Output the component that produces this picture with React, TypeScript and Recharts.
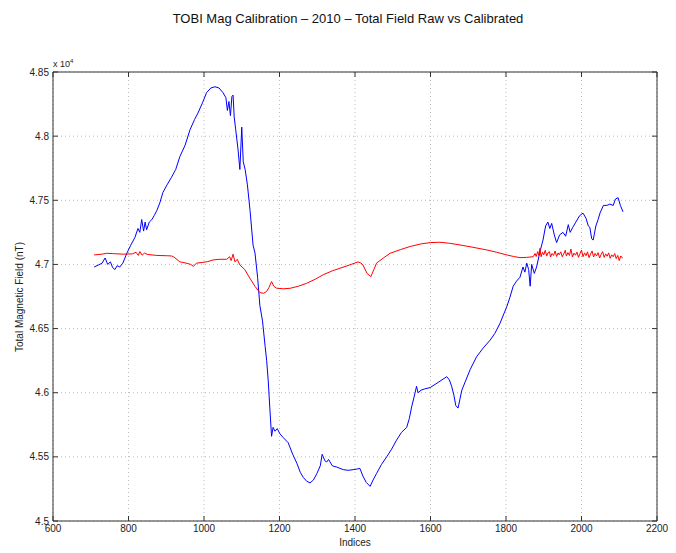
import React from 'react';
import { LineChart, Line, XAxis, YAxis, CartesianGrid } from 'recharts';

// raw total field (blue)
const rawIndices = [
  709, 720, 730, 738, 745, 752, 758, 764, 770, 777, 785, 796, 806, 817, 825, 830, 835, 840, 844, 848,
  855, 862, 868, 875, 883, 891, 902, 914, 925, 936, 950, 963, 975, 984, 996, 1007, 1018, 1029, 1040, 1050,
  1058, 1062, 1066, 1070, 1074, 1077, 1080, 1084, 1090, 1095, 1100, 1104, 1109, 1115, 1122, 1130, 1135, 1142, 1148, 1155,
  1162, 1166, 1170, 1175, 1179, 1183, 1188, 1194, 1201, 1210, 1223, 1235, 1246, 1255, 1263, 1272, 1281, 1290, 1299, 1308,
  1313, 1316, 1320, 1325, 1330, 1334, 1340, 1352, 1369, 1382, 1395, 1405, 1413, 1421, 1430, 1440, 1448, 1457, 1470, 1484,
  1497, 1510, 1523, 1537, 1544, 1550, 1556, 1563, 1567, 1575, 1585, 1599, 1620, 1643, 1650, 1656, 1662, 1667, 1673, 1678,
  1683, 1694, 1705, 1722, 1740, 1758, 1770, 1784, 1795, 1802, 1810, 1819, 1828, 1837, 1845, 1850, 1855, 1860, 1864, 1868,
  1875, 1881, 1890, 1898, 1905, 1911, 1916, 1921, 1928, 1934, 1942, 1951, 1958, 1965, 1970, 1977, 1985, 1995, 2004, 2012,
  2018, 2022, 2027, 2031, 2038, 2044, 2049, 2058, 2067, 2075, 2084, 2090, 2097, 2103, 2110
];
const rawField = [
  46980, 46995, 47010, 47050, 47000, 47020, 46975, 46960, 46990, 46980, 47010, 47090, 47150, 47210, 47280, 47250, 47350, 47260, 47330, 47270,
  47330, 47350, 47380, 47420, 47480, 47560, 47620, 47680, 47740, 47840, 47930, 48050, 48130, 48180, 48260, 48340, 48375, 48385, 48375, 48340,
  48300, 48200, 48270, 48160, 48310, 48320, 48150, 48050, 47900, 47740, 48070, 47800, 47740, 47620, 47420, 47150, 47090, 46900, 46680, 46560,
  46360, 46250, 46100, 45850, 45660, 45730, 45700, 45720, 45680, 45650, 45610, 45520, 45450, 45380, 45340, 45310, 45297, 45320, 45370, 45430,
  45520, 45500, 45470, 45460, 45480, 45460, 45430, 45420, 45400, 45395, 45400, 45405, 45410, 45350, 45300, 45270, 45320, 45370, 45440, 45500,
  45560, 45630, 45690, 45730, 45800, 45890, 45960, 46050, 46000, 46020, 46030, 46040, 46080, 46125, 46100, 46050, 45980, 45900, 45880, 45950,
  46020, 46100, 46180, 46280, 46350, 46410, 46460, 46540, 46620, 46670, 46740, 46830, 46870, 46900, 46980, 46940, 47010, 46960, 46830, 47000,
  46930, 46980, 47100, 47190, 47300, 47330, 47280, 47320, 47230, 47170, 47230, 47250, 47220, 47310, 47250, 47290, 47330, 47380, 47400, 47360,
  47300, 47290, 47200, 47190, 47300, 47350, 47400, 47460, 47460, 47470, 47460, 47510, 47520, 47460, 47410
];

// calibrated total field (red)
const calIndices = [
  709, 730, 742, 760, 786, 810, 820, 826, 830, 836, 842, 850, 875, 900, 914, 920, 936, 950, 965, 972,
  980, 995, 1010, 1024, 1040, 1060, 1068, 1072, 1077, 1082, 1088, 1095, 1108, 1122, 1135, 1148, 1158, 1166, 1172, 1179,
  1185, 1192, 1210, 1228, 1250, 1272, 1295, 1316, 1340, 1360, 1385, 1408, 1416, 1421, 1432, 1442, 1450, 1457, 1475, 1493,
  1520, 1546, 1575, 1599, 1625, 1650, 1678, 1710, 1749, 1775, 1802, 1820, 1837, 1855, 1872, 1877, 1880, 1884, 1887, 1890,
  1893, 1897, 1900, 1904, 1908, 1911, 1915, 1918, 1922, 1926, 1930, 1934, 1938, 1941, 1945, 1949, 1953, 1957, 1960, 1964,
  1968, 1972, 1976, 1980, 1984, 1988, 1992, 1996, 2000, 2004, 2008, 2012, 2016, 2020, 2024, 2028, 2032, 2036, 2040, 2044,
  2048, 2052, 2056, 2060, 2064, 2068, 2072, 2076, 2080, 2084, 2088, 2092, 2096, 2100, 2104, 2109
];
const calField = [
  47074, 47080, 47087, 47084, 47080, 47082, 47095, 47070, 47100, 47072, 47088, 47078, 47070, 47068, 47066, 47058, 47020, 47012, 47000, 46985,
  47010, 47015, 47022, 47035, 47040, 47040, 47060, 47030, 47080, 47020, 47040, 46996, 46960, 46890, 46830, 46780, 46775, 46790, 46820, 46866,
  46830, 46815, 46810, 46814, 46830, 46853, 46885, 46920, 46950, 46970, 46995, 47020, 47010, 46996, 46930, 46905, 46960, 47010, 47050, 47087,
  47115, 47140, 47160, 47170, 47173, 47165, 47152, 47135, 47113, 47095, 47074, 47062, 47053, 47055, 47060, 47085, 47062, 47100, 47070, 47125,
  47060, 47095, 47075, 47110, 47065, 47090, 47100, 47058, 47085, 47070, 47105, 47062, 47090, 47075, 47098, 47060, 47082, 47110, 47065, 47092,
  47070, 47120, 47058, 47088, 47072, 47096, 47055, 47085, 47112, 47060, 47090, 47068, 47098, 47052, 47080, 47105, 47058, 47086, 47066, 47092,
  47050, 47078, 47100, 47055, 47082, 47064, 47090, 47048, 47075, 47060, 47085, 47045, 47070, 47030, 47066, 47048
];

const xTicks = [600, 800, 1000, 1200, 1400, 1600, 1800, 2000, 2200];
const yTicks = [45000, 45500, 46000, 46500, 47000, 47500, 48000, 48500];
const yTickLabels = ['4.5', '4.55', '4.6', '4.65', '4.7', '4.75', '4.8', '4.85'];

const rawData = rawIndices.map((idx, i) => ({ idx, value: rawField[i] }));
const calData = calIndices.map((idx, i) => ({ idx, value: calField[i] }));

const font = '"Liberation Sans", Arial, Helvetica, sans-serif';
const tickStyle = { fontSize: 10, fill: '#222', fontFamily: font };
const axisColor = '#333';

const App: React.FC = () => {
  return (
    <div style={{ position: 'absolute', left: 0, top: 0, width: 676, height: 553, background: '#fff', fontFamily: font }}>
      <div style={{ position: 'absolute', left: 0, width: 696, top: 11, textAlign: 'center', fontSize: 13, color: '#111' }}>
        TOBI Mag Calibration – 2010 – Total Field Raw vs Calibrated
      </div>
      <div style={{ position: 'absolute', left: 53, top: 58, fontSize: 9, color: '#222' }}>
        x 10<sup style={{ fontSize: 6 }}>4</sup>
      </div>
      <div
        style={{
          position: 'absolute', left: 19, top: 297, fontSize: 10, color: '#222', whiteSpace: 'nowrap',
          transform: 'translate(-50%, -50%) rotate(-90deg)'
        }}
      >
        Total Magnetic Field (nT)
      </div>
      <div style={{ position: 'absolute', left: 355, top: 537, fontSize: 10, color: '#222', transform: 'translateX(-50%)' }}>
        Indices
      </div>
      <LineChart width={676} height={553} margin={{ top: 71, right: 18, bottom: 0, left: 8 }}>
        <CartesianGrid xAxisId="bottom" yAxisId="left" stroke="#bbb" strokeDasharray="1 3" vertical horizontal />
        <XAxis
          xAxisId="bottom" dataKey="idx" type="number" domain={[600, 2200]} ticks={xTicks}
          height={32} stroke={axisColor} tickSize={-5} tickMargin={9} tick={tickStyle} allowDataOverflow
        />
        <XAxis
          xAxisId="top" orientation="top" dataKey="idx" type="number" domain={[600, 2200]} ticks={xTicks}
          height={1} stroke={axisColor} tickSize={-5} tickFormatter={() => ''}
        />
        <YAxis
          yAxisId="left" type="number" domain={[45000, 48500]} ticks={yTicks} width={45}
          stroke={axisColor} tickSize={-5} tickMargin={9} tick={tickStyle}
          tickFormatter={(v: number) => yTickLabels[yTicks.indexOf(v)] ?? ''}
          allowDataOverflow
        />
        <YAxis
          yAxisId="right" orientation="right" type="number" domain={[45000, 48500]} ticks={yTicks} width={1}
          stroke={axisColor} tickSize={-5} tickFormatter={() => ''}
        />
        <Line
          xAxisId="bottom" yAxisId="left" data={rawData} dataKey="value" type="linear"
          stroke="#0000ff" strokeWidth={1} dot={false} isAnimationActive={false}
        />
        <Line
          xAxisId="top" yAxisId="right" data={calData} dataKey="value" type="linear"
          stroke="#ff0000" strokeWidth={1} dot={false} isAnimationActive={false}
        />
      </LineChart>
    </div>
  );
};

export default App;
